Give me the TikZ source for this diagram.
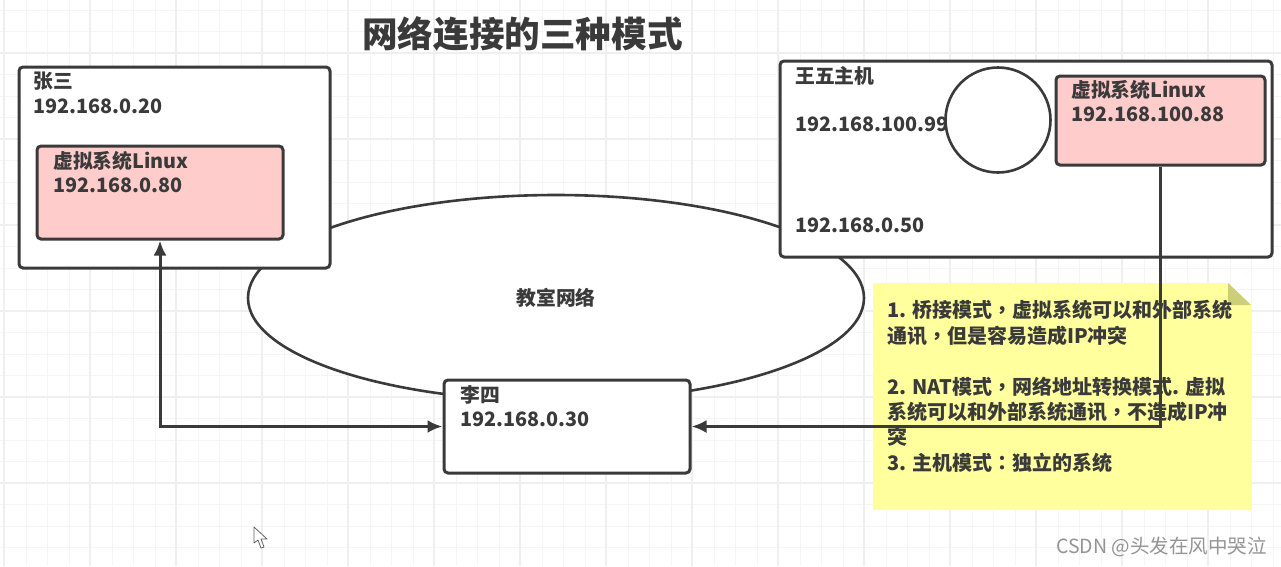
\documentclass[tikz,border=0pt]{standalone}
\usepackage{fontspec}
\setmainfont{Noto Sans CJK SC}
\newfontfamily\tcfont{Noto Sans CJK TC}
\newcommand{\cmm}{{\tcfont ，}}
\newcommand{\cln}{{\tcfont ：}}
\usetikzlibrary{arrows.meta,shapes.geometric}
\definecolor{ink}{HTML}{3A3A3A}
\definecolor{pinkfill}{HTML}{FFCCCC}
\definecolor{notefill}{HTML}{FFFF9E}
\definecolor{foldfill}{HTML}{CBCF78}
\definecolor{gridminor}{HTML}{F5F5F5}
\definecolor{gridmajor}{HTML}{EFEFEF}
\tikzset{
  box/.style={draw=ink,line width=3pt,rounded corners=4pt,fill=white},
  pinkbox/.style={box,fill=pinkfill},
  lbl/.style={anchor=west,inner sep=0pt,align=left,text=ink,font=\fontsize{19.8}{24.4}\selectfont\bfseries},
  plain/.style={lbl,font=\fontsize{20}{25.4}\selectfont\bfseries},
  link/.style={draw=ink,line width=3pt},
  tip/.style={-{Latex[length=15pt,width=13pt]}},
  tips/.style={{Latex[length=15pt,width=13pt]}-{Latex[length=15pt,width=13pt]}},
}
\begin{document}
\begin{tikzpicture}[x=1pt,y=-1pt]
\useasboundingbox (0,0) rectangle (1281,566);
\fill[white] (0,0) rectangle (1281,566);
% grid
\foreach \i in {-1,...,60} {
  \pgfmathsetmacro{\gx}{4.5+21.5*(\i+1)-21.5}
  \draw[gridminor,line width=1pt] (\gx,0) -- (\gx,566);
}
\foreach \i in {0,...,27} {
  \pgfmathsetmacro{\gy}{10+21.5*\i}
  \draw[gridminor,line width=1pt] (0,\gy) -- (1281,\gy);
}
\foreach \i in {0,...,15} {
  \pgfmathsetmacro{\gx}{4+86*\i}
  \draw[gridmajor,line width=1.2pt] (\gx,0) -- (\gx,566);
}
\foreach \i in {0,...,6} {
  \pgfmathsetmacro{\gy}{53+86*\i}
  \draw[gridmajor,line width=1.2pt] (0,\gy) -- (1281,\gy);
}
% title
\node[lbl,font=\fontsize{35.6}{40}\selectfont\bfseries] (title) at (362,34) {网络连接的三种模式};
% classroom network
\node[draw=ink,line width=2.6pt,fill=white,shape=ellipse,minimum width=616pt,minimum height=206pt,inner sep=0pt] (net) at (556,298) {};
\node[lbl,anchor=center] (nettext) at (556,298) {教室网络};
% Zhang San
\draw[box] (19,67) rectangle (330,268);
\node[lbl] (zhang) at (33,93) {张三\\192.168.0.20};
\node[pinkbox,minimum width=246pt,minimum height=93pt,inner sep=0pt] (vma) at (160,192.5) {};
\node[lbl] (vmatext) at (53,172) {虚拟系统Linux\\192.168.0.80};
% Wang Wu
\draw[box] (780,61) rectangle (1272,257);
\node[lbl] (wangname) at (795,76) {王五主机};
\node[lbl] (wangip) at (795,124) {192.168.100.99};
\node[lbl] (wanglan) at (795,225) {192.168.0.50};
\node[circle,draw=ink,line width=2.6pt,fill=white,minimum size=105pt,inner sep=0pt] (sw) at (998,120) {};
\node[pinkbox,minimum width=209pt,minimum height=89pt,inner sep=0pt] (vmb) at (1160.5,120.5) {};
\node[lbl] (vmbtext) at (1071,101) {虚拟系统Linux\\192.168.100.88};
% note
\fill[notefill] (873,283) -- (1228,283) -- (1251,305) -- (1251,510) -- (873,510) -- cycle;
\fill[foldfill] (1228,283) -- (1251,305) -- (1228,305) -- cycle;
% Li Si
\node[box,minimum width=246pt,minimum height=93pt,inner sep=0pt] (lisi) at (567,426.5) {};
\node[lbl] (lisitext) at (460,406) {李四\\192.168.0.30};
% connectors
\draw[link,tips] (vma.south) |- (lisi.west);
\draw[link,tip] (vmb.south) |- (lisi.east);
% note text
\node[plain] (notetext) at (887,386.5) {1. 桥接模式\cmm 虚拟系统可以和外部系统\\通讯\cmm 但是容易造成IP冲突\\[25.4pt]2. NAT模式\cmm 网络地址转换模式. 虚拟\\系统可以和外部系统通讯\cmm 不造成IP冲\\突\\3. 主机模式\cln 独立的系统};
% watermark
\node[anchor=east,inner sep=0pt,text=black!42,font=\fontsize{19.5}{22}\selectfont] (mark) at (1267,547) {CSDN @头发在风中哭泣};
% cursor
\draw[draw=ink!80,fill=white,line width=0.8pt,line join=round] (254,527) -- (254,543) -- (258,540) -- (261,548) -- (264,547) -- (261,539) -- (267,539) -- cycle;
\end{tikzpicture}
\end{document}
